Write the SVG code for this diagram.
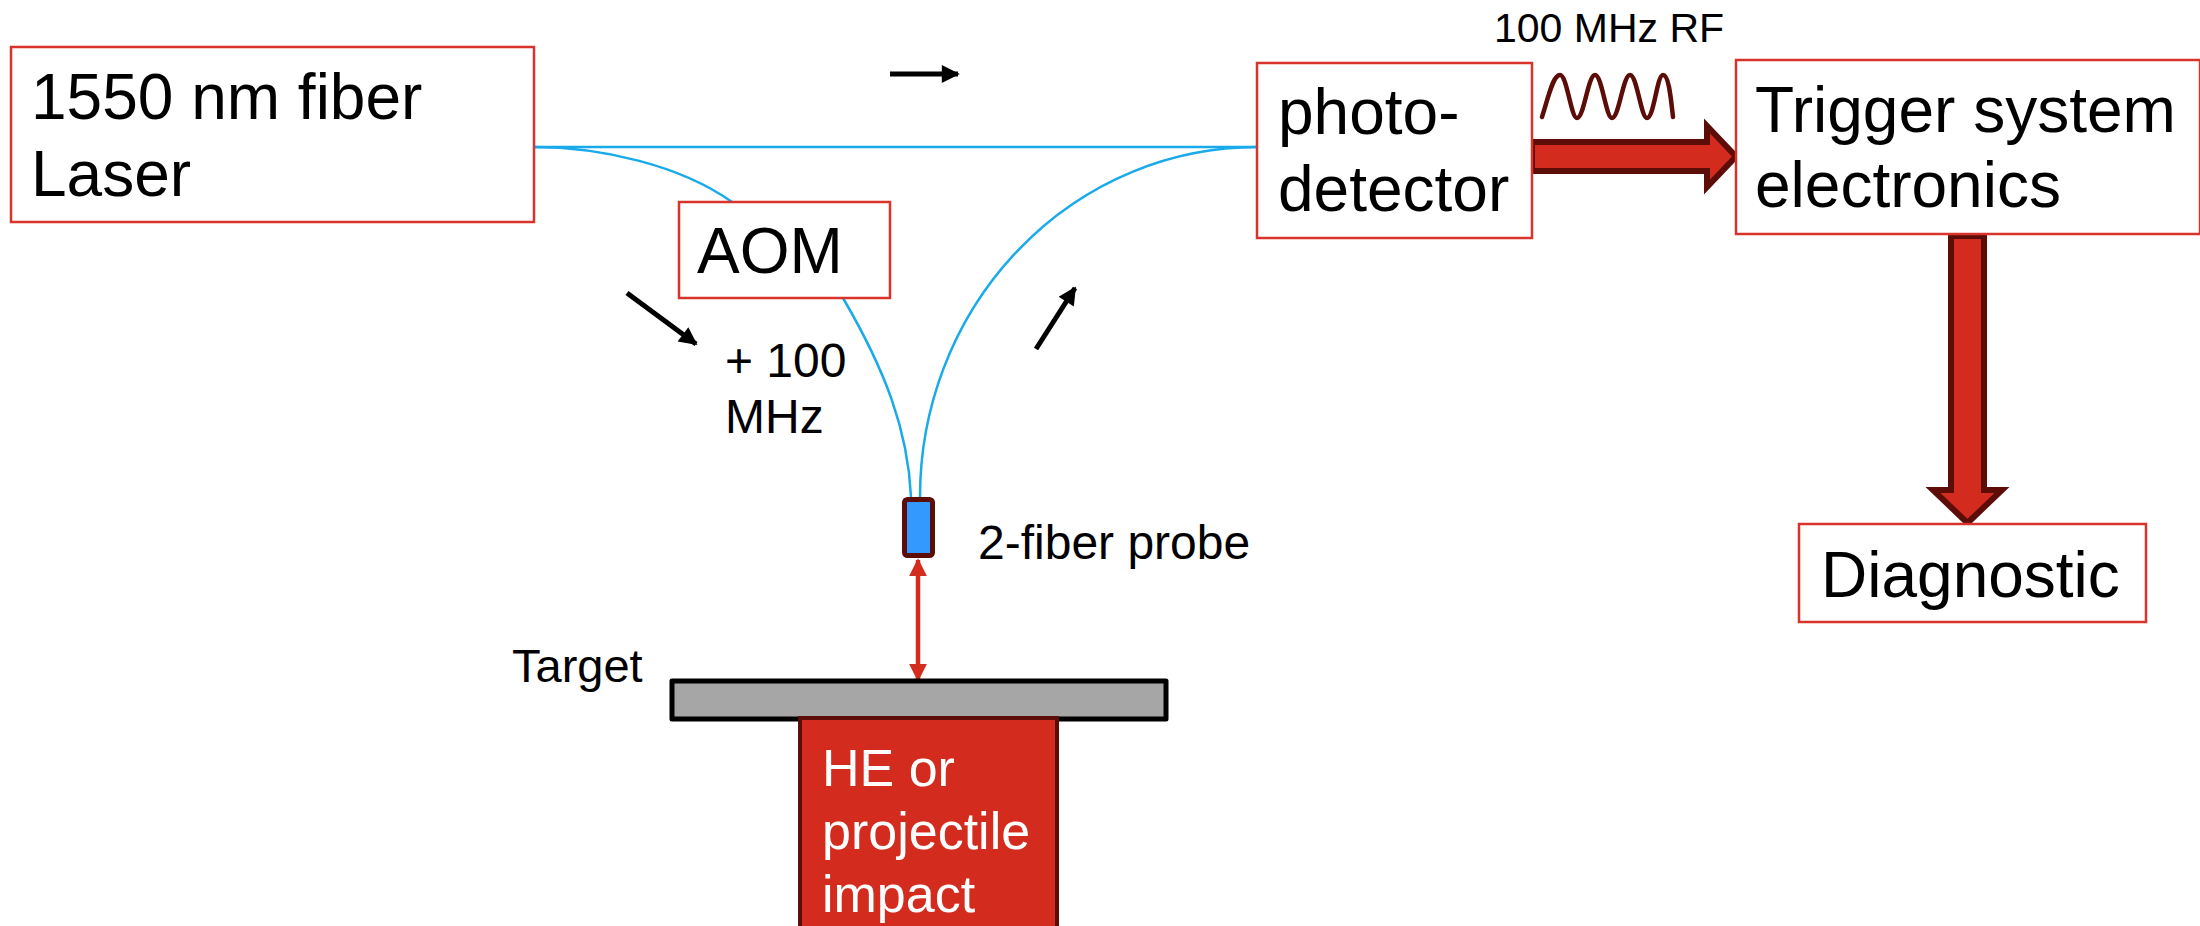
<svg xmlns="http://www.w3.org/2000/svg" width="2200" height="926" viewBox="0 0 2200 926">
<defs>
<style>
.box{fill:#fff;stroke:#d9342b;stroke-width:2.5}
.t{font-family:"Liberation Sans",Arial,sans-serif;fill:#000}
.big{font-size:64px}
.mid{font-size:48px}
.wt{fill:#fff;font-size:52px}
.fiber{fill:none;stroke:#19aaea;stroke-width:2.5}
.blk{stroke:#000;stroke-width:5;fill:none}
.fat{fill:#d42b1f;stroke:#5c0d07;stroke-width:6;stroke-linejoin:miter}
</style>
<marker id="ah" viewBox="0 0 10 10" refX="9" refY="5" markerWidth="4" markerHeight="3.6" orient="auto" markerUnits="strokeWidth">
<path d="M0,0 L10,5 L0,10 z" fill="#000"/>
</marker>
<marker id="rh" viewBox="0 0 10 10" refX="9" refY="5" markerWidth="4" markerHeight="4" orient="auto-start-reverse" markerUnits="strokeWidth">
<path d="M0,0 L10,5 L0,10 z" fill="#d42b1f"/>
</marker>
</defs>
<rect width="2200" height="926" fill="#fff"/>

<g id="connectors">
<path class="fiber" d="M534,147 L1257,147"/>
<path class="fiber" d="M534,147 C600,147 680,165 732,202"/>
<path class="fiber" d="M843,298 C885,370 908,430 911,497"/>
<path class="fiber" d="M920,497 A337,350 0 0 1 1257,147"/>
<line class="blk" x1="890" y1="74" x2="958" y2="74" marker-end="url(#ah)"/>
<line class="blk" x1="627" y1="293" x2="696" y2="344" marker-end="url(#ah)"/>
<line class="blk" x1="1036" y1="349" x2="1075" y2="288" marker-end="url(#ah)"/>
<line x1="918" y1="560" x2="918" y2="680" stroke="#d42b1f" stroke-width="4.5" marker-start="url(#rh)" marker-end="url(#rh)"/>
<path class="fat" d="M1532,142 L1707,142 L1707,126 L1736,156.5 L1707,187 L1707,171 L1532,171 Z"/>
<path class="fat" d="M1951,236 L1984,236 L1984,490 L2002,490 L1967.5,523 L1933,490 L1951,490 Z"/>
</g>

<g id="rf-wave">
<path d="M1542,117 C1549,95 1553,75 1560,75 C1567,75 1571,118 1577,118 C1584,118 1588,75 1595,75 C1602,75 1606,118 1612,118 C1619,118 1623,75 1630,75 C1637,75 1641,118 1647,118 C1654,118 1657,75 1663,75 C1669,75 1671,100 1673,117" fill="none" stroke="#5c0d07" stroke-width="4.5" stroke-linecap="round" stroke-linejoin="round"/>
</g>

<g id="laser">
<rect class="box" x="11" y="47" width="523" height="175"/>
<text class="t big" x="31" y="119">1550 nm fiber</text>
<text class="t big" x="31" y="196">Laser</text>
</g>

<g id="aom">
<rect class="box" x="679" y="202" width="211" height="96"/>
<text class="t big" x="697" y="273">AOM</text>
</g>

<g id="photodetector">
<rect class="box" x="1257" y="63" width="275" height="175"/>
<text class="t big" x="1278" y="134">photo-</text>
<text class="t big" x="1278" y="211">detector</text>
</g>

<g id="trigger">
<rect class="box" x="1736" y="60" width="464" height="174"/>
<text class="t big" x="1755" y="132">Trigger system</text>
<text class="t big" x="1755" y="207">electronics</text>
</g>

<g id="diagnostic">
<rect class="box" x="1799" y="524" width="347" height="98"/>
<text class="t big" x="1821" y="597">Diagnostic</text>
</g>

<g id="labels">
<text class="t" font-size="41" x="1494" y="42">100 MHz RF</text>
<text class="t mid" x="725" y="377">+ 100</text>
<text class="t mid" x="725" y="433">MHz</text>
<text class="t mid" x="978" y="559">2-fiber probe</text>
<text class="t" font-size="47" x="512" y="682">Target</text>
</g>

<g id="probe">
<rect x="904.5" y="499.5" width="28" height="56" rx="3" fill="#3399ff" stroke="#5c0d07" stroke-width="5"/>
</g>

<g id="target">
<rect x="672" y="681" width="494" height="38" fill="#a6a6a6" stroke="#000" stroke-width="5" stroke-linejoin="round"/>
</g>

<g id="he">
<rect x="800" y="718" width="257" height="220" fill="#d42b1f" stroke="#5c0d07" stroke-width="4"/>
<text class="t wt" x="822" y="786">HE or</text>
<text class="t wt" x="822" y="849">projectile</text>
<text class="t wt" x="822" y="912">impact</text>
</g>
</svg>
